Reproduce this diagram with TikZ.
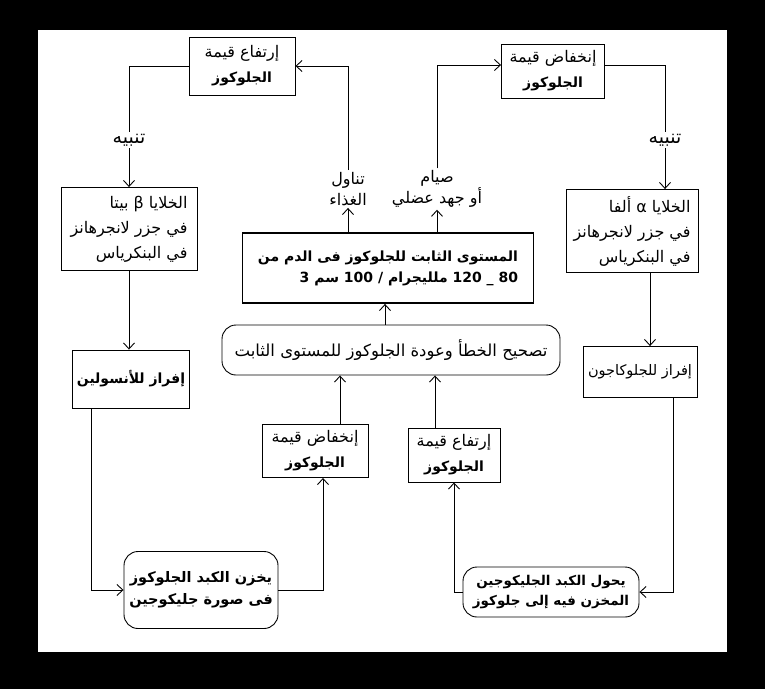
\documentclass[tikz,border=0pt]{standalone}
\usepackage{fontspec}
\newfontfamily\arabicfont[Script=Arabic]{DejaVu Sans}
\TeXXeTstate=1
\usetikzlibrary{arrows.meta}
\newcommand{\arline}[1]{\beginR #1\endR}
\newcommand{\typed}{\bfseries\fontsize{14}{24}\selectfont}

\tikzset{
  box/.style={draw, line width=0.9pt, align=center, inner sep=2pt,
    font=\arabicfont\fontsize{16}{25}\selectfont},
  roundbox/.style={box, rounded corners=14pt},
  lbl/.style={align=center, inner sep=2pt,
    font=\arabicfont\fontsize{16}{21}\selectfont},
  link/.style={line width=0.9pt},
}

\begin{document}
\begin{tikzpicture}[x=1pt,y=-1pt,>={Straight Barb[length=6pt,width=11pt]}]
  % frame
  \fill[black] (0,0) rectangle (765,689);
  \fill[white] (38,30) rectangle (727,652);

  % top boxes
  \node[box, minimum width=106pt, minimum height=58pt] (upL) at (242,66)
    {\arline{إرتفاع قيمة}\\\arline{\typed الجلوكوز}};
  \node[box, minimum width=103pt, minimum height=54pt] (upR) at (553,71)
    {\arline{إنخفاض قيمة}\\\arline{\typed الجلوكوز}};
  \node[lbl, font=\arabicfont\fontsize{19}{21}\selectfont] (tnbL) at (129,140) {\arline{تنبيه}};
  \node[lbl, font=\arabicfont\fontsize{19}{21}\selectfont] (tnbR) at (665,140) {\arline{تنبيه}};

  % cells
  \node[box, minimum width=136pt, minimum height=83pt, align=right] (beta) at (129,229)
    {\arline{الخلايا β بيتا}\\\arline{في جزر لانجرهانز}\\\arline{في البنكرياس}};
  \node[box, minimum width=132pt, minimum height=83pt, align=right] (alpha) at (632,231)
    {\arline{الخلايا α ألفا}\\\arline{في جزر لانجرهانز}\\\arline{في البنكرياس}};
  \node[box, minimum width=117pt, minimum height=58pt,
    font=\arabicfont\bfseries\fontsize{14}{20}\selectfont] (insulin) at (131,379)
    {\arline{إفراز للأنسولين}};
  \node[box, minimum width=114pt, minimum height=51pt,
    font=\arabicfont\fontsize{14.5}{20}\selectfont] (glucagon) at (640,372)
    {\arline{إفراز للجلوكاجون}};

  % centre
  \node[lbl] (food) at (348,189) {\arline{تناول}\\\arline{الغذاء}};
  \node[lbl] (fast) at (437,189) {\arline{صيام}\\\arline{أو جهد عضلي}};
  \node[box, line width=1.8pt, minimum width=291pt, minimum height=70pt,
    font=\arabicfont\bfseries\fontsize{14}{21}\selectfont, align=right] (stable) at (388,268)
    {\arline{المستوى الثابت للجلوكوز فى الدم من}\\\arline{80 \_ 120 ملليجرام / 100 سم 3}};
  \node[roundbox, minimum width=338pt, minimum height=50pt,
    font=\arabicfont\fontsize{16.5}{20}\selectfont] (tash) at (391,350)
    {\arline{تصحيح الخطأ وعودة الجلوكوز للمستوى الثابت}};
  \node[box, minimum width=106pt, minimum height=53pt] (lowL) at (315,451)
    {\arline{إنخفاض قيمة}\\\arline{\typed الجلوكوز}};
  \node[box, minimum width=92pt, minimum height=54pt] (lowR) at (454,455)
    {\arline{إرتفاع قيمة}\\\arline{\typed الجلوكوز}};

  % liver
  \node[roundbox, minimum width=154pt, minimum height=77pt,
    font=\arabicfont\bfseries\fontsize{14.5}{22}\selectfont] (store) at (201,590)
    {\arline{يخزن الكبد الجلوكوز}\\\arline{فى صورة جليكوجين}};
  \node[roundbox, minimum width=176pt, minimum height=50pt, inner sep=1pt,
    font=\arabicfont\bfseries\fontsize{13.5}{20}\selectfont] (retr) at (551,592)
    {\arline{يحول الكبد الجليكوجين}\\\arline{المخزن فيه إلى جلوكوز}};

  \coordinate (insOut) at ([xshift=-40pt]insulin.south);
  \coordinate (lowLin) at ([xshift=8pt]lowL.south);
  \coordinate (lowLout) at ([xshift=25pt]lowL.north);
  \coordinate (lowRout) at ([xshift=-19pt]lowR.north);
  \coordinate (gluOut) at ([xshift=33pt]glucagon.south);
  \coordinate (alphaOut) at ([xshift=18pt]alpha.south);
  \coordinate (tashOut) at ([xshift=-6pt]tash.north);
  \coordinate (upRin) at ([yshift=6pt]upR.west);
  \coordinate (upRout) at ([yshift=6pt]upR.east);

  % left loop
  \draw[link] (upL.west) -| (tnbL.north);
  \draw[link,->] (tnbL.south) -- (beta.north);
  \draw[link,->] (beta.south) -- (beta.south |- insulin.north);
  \draw[link,->] (insOut) |- (store.west);
  \draw[link,->] (store.east) -| (lowLin);
  \draw[link,->] (lowLout) -- (lowLout |- tash.south);

  % right loop
  \draw[link] (upRout) -| (tnbR.north);
  \draw[link,->] (tnbR.south) -- (tnbR.south |- alpha.north);
  \draw[link,->] (alphaOut) -- (alphaOut |- glucagon.north);
  \draw[link,->] (gluOut) |- (retr.east);
  \draw[link,->] (retr.west) -| (lowR.south);
  \draw[link,->] (lowRout) -- (lowRout |- tash.south);

  % middle
  \draw[link,->] (tashOut) -- (tashOut |- stable.south);
  \draw[link,->] (food.south |- stable.north) -- (food.south);
  \draw[link,->] (food.north) |- (upL.east);
  \draw[link,->] (fast.south |- stable.north) -- (fast.south);
  \draw[link,->] (fast.north) |- (upRin);
\end{tikzpicture}
\end{document}
